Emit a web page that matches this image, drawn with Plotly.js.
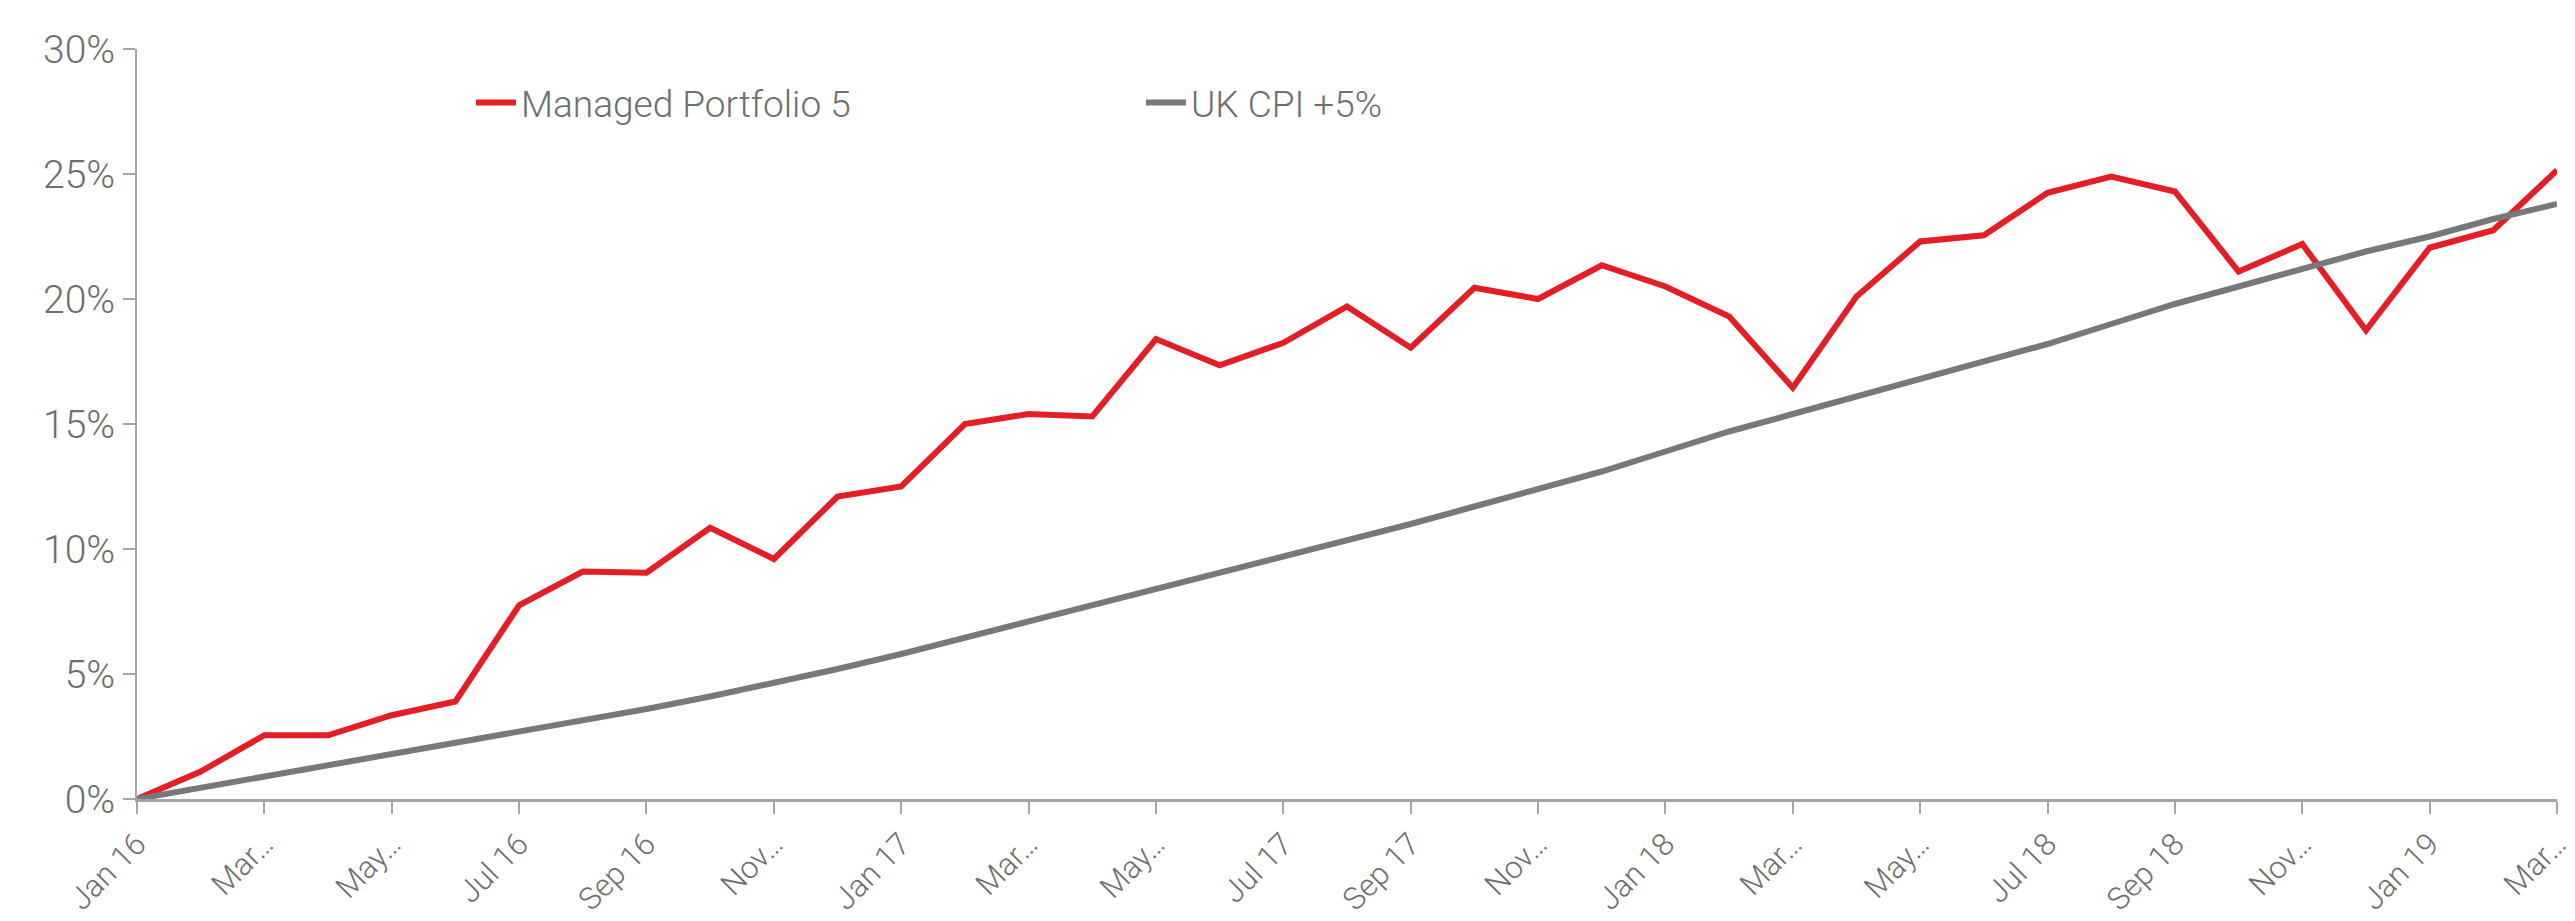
<!DOCTYPE html>
<html>
<head>
<meta charset="utf-8">
<script src="https://cdn.plot.ly/plotly-3.0.1.min.js"></script>
<style>html,body{margin:0;padding:0;background:#fff;}#chart{width:2575px;height:921px;}</style>
</head>
<body>
<div id="chart"></div>
<script>
const months = ["Jan 16","Feb 16","Mar 16","Apr 16","May 16","Jun 16","Jul 16","Aug 16","Sep 16","Oct 16","Nov 16","Dec 16",
  "Jan 17","Feb 17","Mar 17","Apr 17","May 17","Jun 17","Jul 17","Aug 17","Sep 17","Oct 17","Nov 17","Dec 17",
  "Jan 18","Feb 18","Mar 18","Apr 18","May 18","Jun 18","Jul 18","Aug 18","Sep 18","Oct 18","Nov 18","Dec 18",
  "Jan 19","Feb 19","Mar 19"];
const portfolio = [0, 1.1, 2.55, 2.55, 3.35, 3.9, 7.75, 9.1, 9.05, 10.85, 9.6, 12.1,
  12.5, 15.0, 15.4, 15.3, 18.4, 17.35, 18.25, 19.7, 18.05, 20.45, 20.0, 21.35,
  20.5, 19.3, 16.45, 20.1, 22.3, 22.55, 24.25, 24.9, 24.3, 21.1, 22.2, 18.75,
  22.05, 22.75, 25.15];
const cpi = [0, 0.45, 0.9, 1.35, 1.78, 2.22, 2.67, 3.12, 3.6, 4.1, 4.62, 5.2,
  5.8, 6.45, 7.05, 7.7, 8.35, 9.0, 9.65, 10.3, 11.0, 11.7, 12.4, 13.1,
  13.9, 14.7, 15.4, 16.1, 16.8, 17.5, 18.2, 19.0, 19.8, 20.5, 21.2, 21.9,
  22.5, 23.2, 23.8];
const tickVals = ["Jan 16","Mar 16","May 16","Jul 16","Sep 16","Nov 16","Jan 17","Mar 17","May 17","Jul 17",
  "Sep 17","Nov 17","Jan 18","Mar 18","May 18","Jul 18","Sep 18","Nov 18","Jan 19","Mar 19"];
const tickText = ["Jan 16","Mar…","May…","Jul 16","Sep 16","Nov…","Jan 17","Mar…","May…","Jul 17",
  "Sep 17","Nov…","Jan 18","Mar…","May…","Jul 18","Sep 18","Nov…","Jan 19","Mar…"];
const yTicks = [0, 5, 10, 15, 20, 25, 30];
const yText = ["0%","5%","10%","15%","20%","25%","30%"];

const fontFam = "Roboto, 'Open Sans', sans-serif";
const txtColor = "#6d6e71";
const axisColor = "#a6a6a6";

const traces = [
  {x: months, y: portfolio, type: "scatter", mode: "lines", name: "Managed Portfolio 5",
   line: {color: "#e31e24", width: 6}},
  {x: months, y: cpi, type: "scatter", mode: "lines", name: "UK CPI +5%",
   line: {color: "#77787b", width: 6}}
];
const layout = {
  width: 2575, height: 921,
  margin: {l: 137, r: 18, t: 49, b: 122},
  paper_bgcolor: "#fff", plot_bgcolor: "#fff",
  font: {family: fontFam, color: txtColor, size: 36, weight: 300},
  showlegend: true,
  legend: {orientation: "h", x: 0.138, y: 0.928, xanchor: "left", yanchor: "middle",
    entrywidth: 615, entrywidthmode: "pixels", itemwidth: 40,
    font: {family: fontFam, size: 37, color: txtColor, weight: 300}, bgcolor: "rgba(0,0,0,0)", tracegroupgap: 0},
  xaxis: {type: "category", categoryorder: "array", categoryarray: months, range: [0, 38],
    tickmode: "array", tickvals: tickVals, ticktext: tickText, tickangle: -45,
    showline: true, linecolor: axisColor, linewidth: 2.5, ticks: "outside", ticklen: 12, tickwidth: 2, tickcolor: axisColor,
    showgrid: false, zeroline: false, tickfont: {family: fontFam, size: 31, color: txtColor, weight: 300}},
  yaxis: {range: [0, 30], tickmode: "array", tickvals: yTicks, ticktext: yText,
    showline: true, linecolor: axisColor, linewidth: 2, ticks: "outside", ticklen: 12, tickwidth: 2, tickcolor: axisColor,
    showgrid: false, zeroline: false, tickfont: {family: fontFam, size: 39, color: txtColor, weight: 300}}
};
Plotly.newPlot("chart", traces, layout, {displayModeBar: false, staticPlot: true});
</script>
</body>
</html>
